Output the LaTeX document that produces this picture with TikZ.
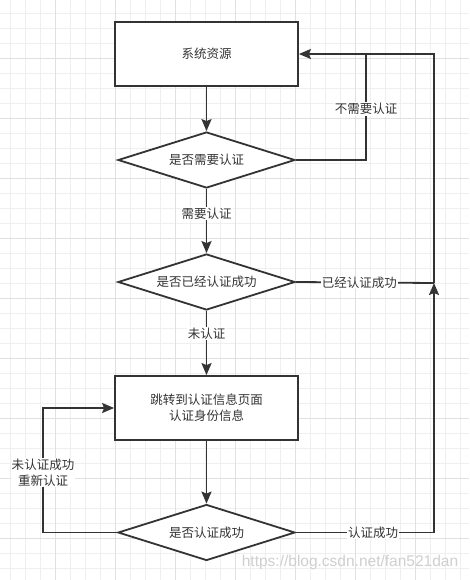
\documentclass[tikz,border=0pt]{standalone}
\usepackage{fontspec}
\setmainfont{Noto Sans CJK SC}
\newfontfamily\wmfont{Liberation Sans}
\usetikzlibrary{shapes.geometric,arrows.meta}
\definecolor{ink}{HTML}{333333}
\definecolor{gridlo}{HTML}{EFEFEF}
\definecolor{gridhi}{HTML}{E0E0E0}
\definecolor{wmark}{HTML}{CFCFCF}

\begin{document}
\begin{tikzpicture}[x=1pt, y=-1pt,
  flow/.style={draw=ink, line width=1.8pt},
  arr/.style={flow, arrows={-Stealth[length=12pt, width=10pt, inset=2pt]}},
  box/.style={draw=ink, line width=1.8pt, fill=white, text=ink, align=center,
    minimum width=183pt, minimum height=64pt, font=\fontsize{12.5}{16}\selectfont},
  choice/.style={diamond, draw=ink, line width=1.8pt, fill=white, text=ink,
    inner sep=0pt, aspect=3.1, minimum width=177pt, minimum height=56pt,
    font=\fontsize{12.5}{16}\selectfont},
  lbl/.style={fill=white, text=ink, inner sep=1pt, align=center,
    font=\fontsize{12.5}{16}\selectfont}]
  \useasboundingbox (0,0) rectangle (469,580);
  % Draw grid
  \fill[white] (0,0) rectangle (469,580);
  \foreach \i in {0,...,30}
    \draw[gridlo, line width=0.8pt] (10+15*\i,0) -- (10+15*\i,580);
  \foreach \i in {0,...,37}
    \draw[gridlo, line width=0.8pt] (0,13.3+15*\i) -- (469,13.3+15*\i);
  \foreach \x in {55,115,...,415}
    \draw[gridhi, line width=0.8pt] (\x,0) -- (\x,580);
  \foreach \y in {58.3,118.3,...,538.3}
    \draw[gridhi, line width=0.8pt] (0,\y) -- (469,\y);
  % Add steps
  \node[box] (res) at (206.5,54) {系统资源};
  \node[choice] (q1) at (206.5,160) {是否需要认证};
  \node[choice] (q2) at (206.5,282) {是否已经认证成功};
  \node[box] (auth) at (206.5,408) {跳转到认证信息页面\\认证身份信息};
  \node[choice] (q3) at (206.5,532.5) {是否认证成功};
  % Corner points
  \coordinate (skip) at (366,54);
  \coordinate (join) at (434,283);
  \coordinate (retry) at (43,408);
  % Draw main flow
  \draw[arr] (res.south) -- (q1.north);
  \draw[arr] (q1.south) -- node[lbl, pos=0.38] (need) {需要认证} (q2.north);
  \draw[arr] (q2.south) -- node[lbl, pos=0.35] (notyet) {未认证} (auth.north);
  \draw[arr] (auth.south) -- (q3.north);
  % Draw loops back up
  \draw[flow] (q1.east) -| node[lbl, pos=0.74] (noneed) {不需要认证} (skip);
  \draw[flow] (q2.east) -- node[lbl, pos=0.46] (done) {已经认证成功} (join);
  \draw[arr] (q3.east) -| node[lbl, pos=0.28] (ok) {认证成功} (join);
  \draw[arr] (join) |- (res.east);
  \draw[arr] (q3.west) -| node[lbl, pos=0.74] (fail) {未认证成功\\重新认证} (retry) -- (auth.west);
  % Add watermark
  \node[text=wmark, font=\wmfont\fontsize{15.5}{18}\selectfont] (mark) at (350,562) {https://blog.csdn.net/fan521dan};
\end{tikzpicture}
\end{document}
